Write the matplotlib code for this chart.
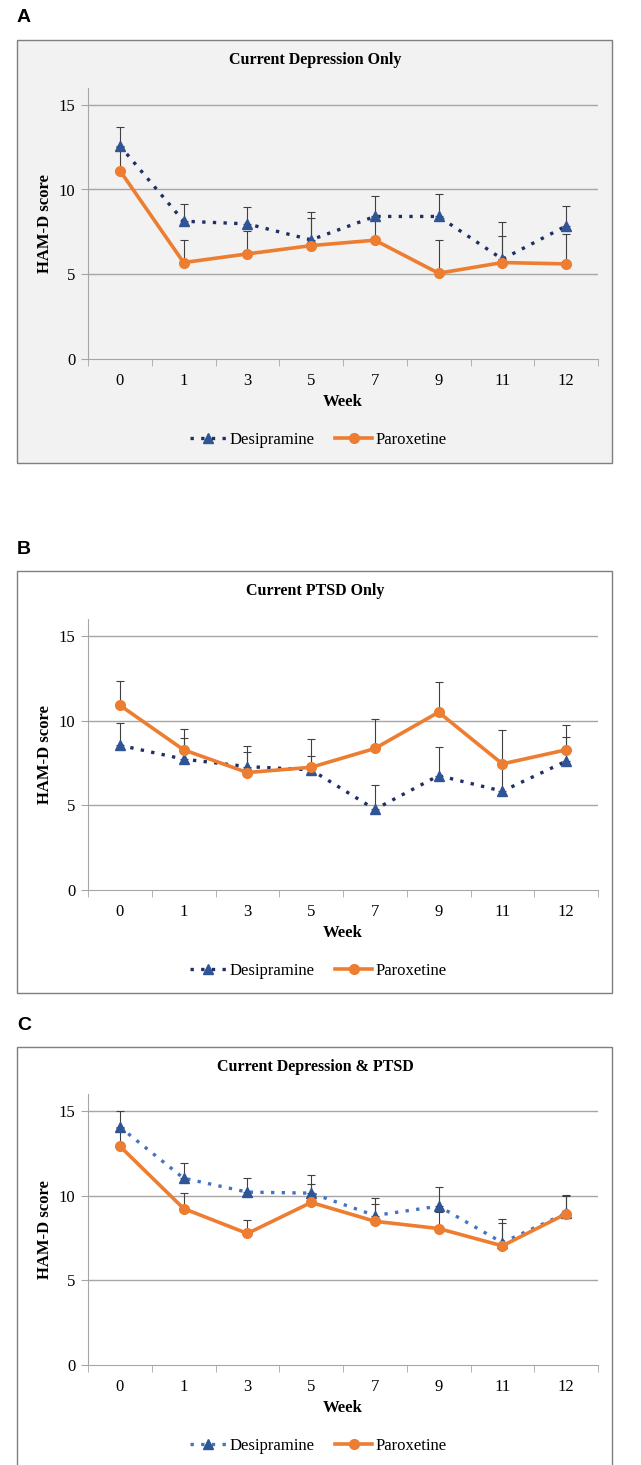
import matplotlib.pyplot as plt
from matplotlib.patches import Rectangle
import numpy as np

weeks = ['0', '1', '3', '5', '7', '9', '11', '12']

titles = ['Current Depression Only', 'Current PTSD Only', 'Current Depression & PTSD']
letters = ['A', 'B', 'C']

desi_a = [12.58, 8.13, 7.97, 7.03, 8.41, 8.41, 5.89, 7.85]
desi_a_err = [1.08, 1.04, 1.01, 1.63, 1.20, 1.31, 2.18, 1.17]
parox_a = [11.12, 5.69, 6.20, 6.69, 7.01, 5.06, 5.69, 5.61]
parox_a_err = [1.40, 1.36, 1.36, 1.60, 1.35, 1.99, 1.55, 1.75]

desi_b = [8.54, 7.72, 7.28, 7.09, 4.76, 6.75, 5.83, 7.60]
desi_b_err = [1.30, 1.22, 0.85, 0.80, 1.42, 1.71, 1.50, 1.40]
parox_b = [10.90, 8.27, 6.93, 7.24, 8.35, 10.49, 7.44, 8.27]
parox_b_err = [1.42, 1.22, 1.55, 1.68, 1.71, 1.79, 2.01, 1.47]

desi_c = [14.04, 11.02, 10.20, 10.14, 8.82, 9.37, 7.22, 8.96]
desi_c_err = [0.92, 0.87, 0.82, 1.08, 1.02, 1.12, 1.38, 1.08]
parox_c = [12.91, 9.23, 7.76, 9.59, 8.48, 8.05, 7.03, 8.92]
parox_c_err = [1.10, 0.89, 0.80, 1.08, 0.99, 1.00, 1.32, 1.08]

desi = [desi_a, desi_b, desi_c]
desi_err = [desi_a_err, desi_b_err, desi_c_err]
parox = [parox_a, parox_b, parox_c]
parox_err = [parox_a_err, parox_b_err, parox_c_err]

W, H = 641, 1465
fig = plt.figure(figsize=(W / 100, H / 100), dpi=100)
serif = 'Liberation Serif'

# pixel layout of each panel: frame top, frame bottom, y of value 0
frames = [(40, 463), (571, 993), (1047, 1475)]
zero_px = [359, 890, 1365]
backs = ['#f2f2f2', 'white', 'white']
dot_colors = ['#1f2f66', '#1f2f66', '#4472c4']
px_per_unit = 16.95

x = np.arange(len(weeks))

for i in range(3):
    top, bot = frames[i]
    fig.patches.append(Rectangle((17 / W, 1 - bot / H), (612 - 17) / W, (bot - top) / H,
                                 transform=fig.transFigure, facecolor=backs[i],
                                 edgecolor='#7f7f7f', linewidth=1.0, zorder=-5))
    fig.text(17 / W, 1 - (top - 22) / H, letters[i], fontsize=14, fontweight='bold',
             family='Liberation Sans', ha='left', va='center')
    fig.text(315 / W, 1 - (top + 20) / H, titles[i], fontsize=11.5, fontweight='bold',
             family=serif, ha='center', va='center')

    z = zero_px[i]
    ax = fig.add_axes([88 / W, 1 - z / H, (598 - 88) / W, 16 * px_per_unit / H])
    ax.set_zorder(1)
    ax.set_facecolor(backs[i])
    ax.set_xlim(-0.5, len(weeks) - 0.5)
    ax.set_ylim(0, 16)
    ax.set_yticks([0, 5, 10, 15])
    ax.set_yticklabels(['0', '5', '10', '15'], family=serif, fontsize=12)
    ax.set_xticks(x)
    ax.set_xticklabels(weeks, family=serif, fontsize=12)
    ax.set_xticks(np.arange(-0.5, len(weeks)), minor=True)
    ax.tick_params(axis='x', which='major', length=0, pad=10)
    ax.tick_params(axis='x', which='minor', length=5, color='#a6a6a6', direction='out')
    ax.tick_params(axis='y', length=5, color='#a6a6a6', pad=4)
    for s in ['top', 'right']:
        ax.spines[s].set_visible(False)
    for s in ['left', 'bottom']:
        ax.spines[s].set_color('#a6a6a6')
    for g in [5, 10, 15]:
        ax.axhline(g, color='#a6a6a6', linewidth=1.0, zorder=0)

    # upper-only error bars, as in the original
    ax.errorbar(x, desi[i], yerr=[np.zeros(len(x)), desi_err[i]], fmt='none',
                ecolor='#404040', elinewidth=0.8, capsize=3, capthick=0.8, zorder=2)
    ax.errorbar(x, parox[i], yerr=[np.zeros(len(x)), parox_err[i]], fmt='none',
                ecolor='#404040', elinewidth=0.8, capsize=3, capthick=0.8, zorder=2)
    ax.plot(x, desi[i], linestyle=(0, (1, 2.2)), linewidth=2.4, color=dot_colors[i],
            marker='^', markersize=7, markerfacecolor='#2f5597', markeredgecolor='#2f5597',
            label='Desipramine', zorder=3)
    ax.plot(x, parox[i], linestyle='-', linewidth=2.6, color='#ed7d31',
            marker='o', markersize=7, markerfacecolor='#ed7d31', markeredgecolor='#ed7d31',
            label='Paroxetine', zorder=4)

    ax.set_ylabel('HAM-D score', family=serif, fontsize=12, fontweight='bold', labelpad=4)
    ax.set_xlabel('Week', family=serif, fontsize=12, fontweight='bold', labelpad=4)
    ax.legend(loc='center', bbox_to_anchor=(318 / W, 1 - (z + 81) / H),
              bbox_transform=fig.transFigure, ncol=2, frameon=False,
              prop={'family': serif, 'size': 12}, handlelength=2.2, columnspacing=1.25,
              handletextpad=0.2)

fig.savefig('out.png', dpi=100)
